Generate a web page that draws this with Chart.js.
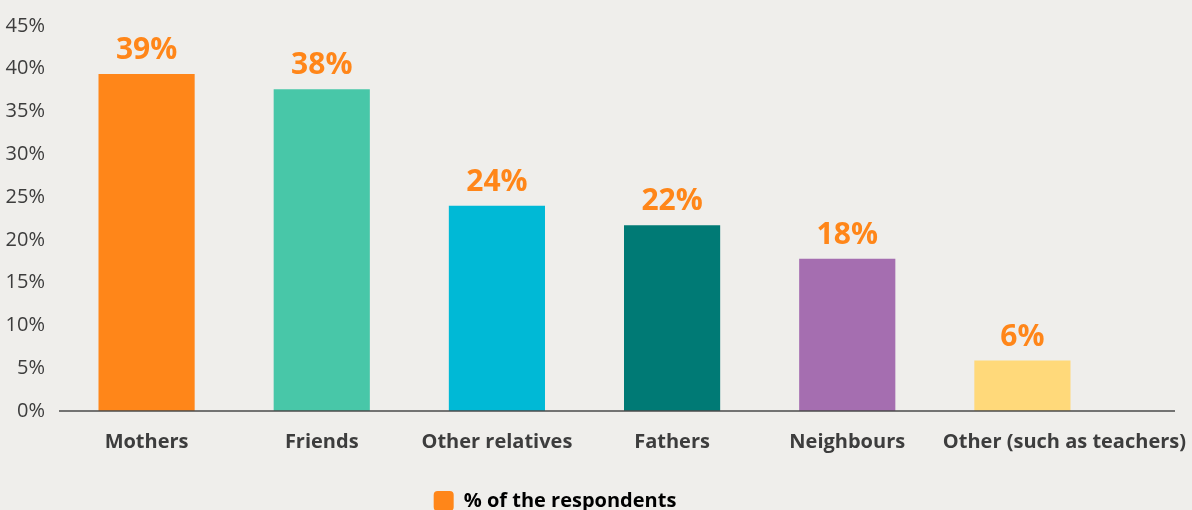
<!DOCTYPE html>
<html>
<head>
<meta charset="utf-8">
<script src="https://cdn.jsdelivr.net/npm/chart.js@4.4.0/dist/chart.umd.min.js"></script>
<style>
	html, body { margin: 0; padding: 0; background: #efeeeb; }
	#wrap { width: 1192px; height: 510px; }
</style>
</head>
<body>
<div id="wrap"><canvas id="bars"></canvas></div>
<script>
var categories = ["Mothers", "Friends", "Other relatives", "Fathers", "Neighbours", "Other (such as teachers)"];
var shares = [39.4, 37.6, 24.0, 21.7, 17.8, 5.9];
var shareLabels = ["39%", "38%", "24%", "22%", "18%", "6%"];
var seriesName = "% of the respondents";
var yTicks = [0, 5, 10, 15, 20, 25, 30, 35, 40, 45];

var color = {
	orange: "#ff8619"
  , green: "#48c7a8"
  , cyan: "#00b9d6"
  , teal: "#007a75"
  , purple: "#a56eb0"
  , yellow: "#ffd97a"
  , text: "#3d3d3d"
  , line: "#4a4a4a"
};
var barColors = [color.orange, color.green, color.cyan, color.teal, color.purple, color.yellow];
var fonts = "'Open Sans', sans-serif";

// the long last category label sits a bit to the right of its bar
var shiftLastLabel = {
	id: "shiftLastLabel",
	beforeDraw: function(chart) {
		var items = chart.scales.x.getLabelItems()
		  , last = items[items.length - 1];
		if (last && !last.shifted) {
			last.options.translation[0] += 42;
			last.shifted = true;
		}
	}
};

// baseline across the plot, then the value labels on top of each bar
var topLabels = {
	id: "topLabels",
	afterDatasetsDraw: function(chart) {
		var ctx = chart.ctx
		  , area = chart.chartArea
		  , y0 = chart.scales.y.getPixelForValue(0);
		ctx.save();
		ctx.strokeStyle = color.line;
		ctx.lineWidth = 1.5;
		ctx.beginPath();
		ctx.moveTo(area.left, y0);
		ctx.lineTo(1175, y0);
		ctx.stroke();

		ctx.fillStyle = color.orange;
		ctx.font = "bold 30px " + fonts;
		ctx.textAlign = "center";
		ctx.textBaseline = "alphabetic";
		chart.getDatasetMeta(0).data.forEach(function(bar, i) {
			ctx.fillText(shareLabels[i], bar.x, bar.y - 15);
		});
		ctx.restore();
	}
};

var ctx = document.getElementById("bars").getContext("2d");
var chart = new Chart(ctx, {
	type: "bar",
	data: {
		labels: categories,
		datasets: [{
			label: seriesName,
			data: shares,
			backgroundColor: barColors,
			barPercentage: 1,
			categoryPercentage: 0.549
		}]
	},
	options: {
		responsive: true,
		maintainAspectRatio: false,
		animation: false,
		layout: { padding: { top: 26, right: 82, left: 0, bottom: -11 } },
		plugins: {
			tooltip: { enabled: false },
			legend: {
				position: "bottom",
				onClick: null,
				labels: {
					color: color.text,
					font: { family: fonts, size: 20, weight: "bold" },
					boxWidth: 20,
					boxHeight: 20,
					useBorderRadius: true,
					borderRadius: 4,
					padding: 2,
					generateLabels: function(chart) {
						return [{
							text: seriesName,
							fillStyle: color.orange,
							strokeStyle: color.orange,
							lineWidth: 0,
							borderRadius: 4,
							datasetIndex: 0
						}];
					}
				}
			}
		},
		scales: {
			x: {
				grid: { display: false },
				border: { display: false },
				afterFit: function(scale) { scale.height = 78; },
				ticks: {
					color: color.text,
					padding: 11,
					maxRotation: 0,
					minRotation: 0,
					autoSkip: false,
					font: { family: fonts, size: 20, weight: "bold" }
				}
			},
			y: {
				min: 0,
				max: 45,
				grid: { display: false },
				border: { display: false },
				afterFit: function(scale) { scale.width = 59; },
				afterBuildTicks: function(scale) {
					scale.ticks = yTicks.map(function(v) { return { value: v }; });
				},
				ticks: {
					color: color.text,
					padding: 6,
					font: { family: fonts, size: 20 },
					callback: function(v) { return v + "%"; }
				}
			}
		}
	},
	plugins: [shiftLastLabel, topLabels]
});
</script>
</body>
</html>
